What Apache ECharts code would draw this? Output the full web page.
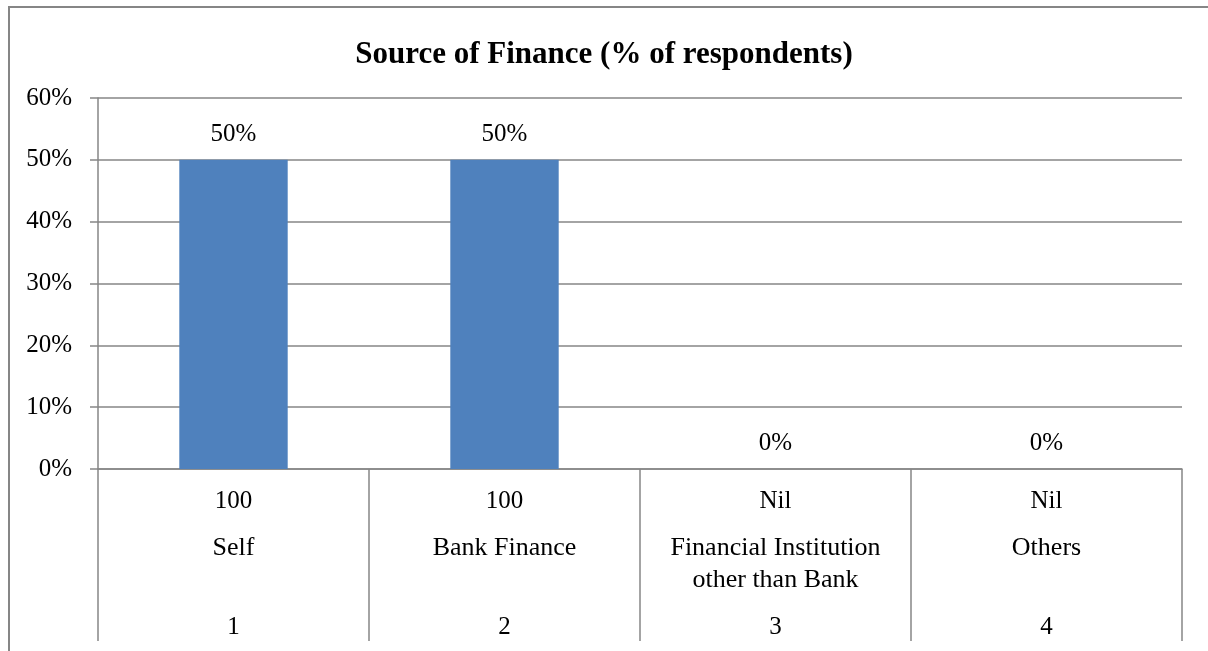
<!DOCTYPE html>
<html>
<head>
<meta charset="utf-8">
<style>
  html, body { margin: 0; padding: 0; background: #fff; }
  #chart { width: 1208px; height: 651px; }
</style>
<script src="https://cdn.jsdelivr.net/npm/echarts@6/dist/echarts.min.js"></script>
</head>
<body>
<div id="chart"></div>
<script>
// Source of finance, share of respondents (%)
const sources = ['Self', 'Bank Finance', 'Financial Institution\nother than Bank', 'Others'];
const respondentCounts = ['100', '100', 'Nil', 'Nil'];
const serialNumbers = ['1', '2', '3', '4'];
const sharePercent = [50, 50, 0, 0];

const FONT = '"Liberation Serif", "Times New Roman", serif';
const GRID_GRAY = '#868686';
const TEXT = '#000';

const chart = echarts.init(document.getElementById('chart'), null, { renderer: 'canvas' });

// Extra label rows under the category axis (no lines of their own)
function labelRow(data, margin, size) {
  return {
    type: 'category',
    position: 'bottom',
    data: data,
    gridIndex: 0,
    axisLine: { show: false },
    axisTick: { show: false },
    splitLine: { show: false },
    axisLabel: {
      interval: 0,
      margin: margin,
      color: TEXT,
      fontFamily: FONT,
      fontSize: size,
      lineHeight: 32,
      align: 'center',
      verticalAlign: 'top'
    }
  };
}

chart.setOption({
  animation: false,
  backgroundColor: '#fff',
  title: {
    text: 'Source of Finance (% of respondents)',
    left: 'center',
    top: 34,
    textStyle: { fontFamily: FONT, fontSize: 31, fontWeight: 'bold', color: TEXT }
  },
  graphic: [{
    type: 'rect',
    shape: { x: 9, y: 7, width: 1400, height: 800 },
    style: { fill: 'none', stroke: GRID_GRAY, lineWidth: 2 },
    silent: true
  }],
  grid: { left: 98, right: 26, top: 98, bottom: 182, containLabel: false },
  xAxis: [
    {
      type: 'category',
      data: respondentCounts,
      boundaryGap: true,
      axisLine: { show: true, lineStyle: { color: GRID_GRAY, width: 1.5 } },
      axisTick: { show: true, length: 172, interval: 0, lineStyle: { color: GRID_GRAY, width: 1.5 } },
      axisLabel: {
        interval: 0,
        margin: 16,
        color: TEXT,
        fontFamily: FONT,
        fontSize: 25,
        lineHeight: 32,
        verticalAlign: 'top'
      }
    },
    labelRow(sources, 63, 26),
    labelRow(serialNumbers, 142, 25)
  ],
  yAxis: {
    type: 'value',
    min: 0,
    max: 60,
    interval: 10,
    axisLine: { show: true, lineStyle: { color: GRID_GRAY, width: 1.5 } },
    axisTick: { show: true, length: 8, lineStyle: { color: GRID_GRAY, width: 1.5 } },
    splitLine: { show: true, lineStyle: { color: GRID_GRAY, width: 1.5 } },
    axisLabel: {
      formatter: '{value}%',
      margin: 26,
      color: TEXT,
      fontFamily: FONT,
      fontSize: 25
    }
  },
  series: [{
    type: 'bar',
    xAxisIndex: 0,
    data: sharePercent,
    barWidth: '40%',
    itemStyle: { color: '#4F81BD' },
    label: {
      show: true,
      position: 'top',
      distance: 13,
      formatter: '{c}%',
      color: TEXT,
      fontFamily: FONT,
      fontSize: 25
    }
  }]
});
</script>
</body>
</html>
